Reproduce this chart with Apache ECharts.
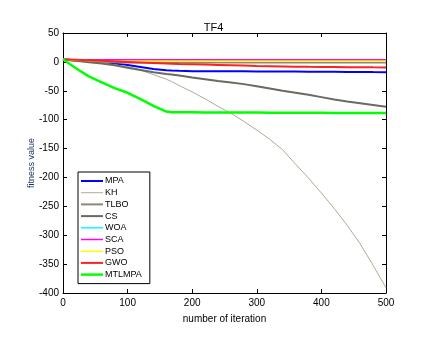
<!DOCTYPE html>
<html><head><meta charset="utf-8">
<script src="https://cdn.jsdelivr.net/npm/echarts@6/dist/echarts.min.js"></script>
<style>html,body{margin:0;padding:0;background:#fff}#c{width:427px;height:343px}</style>
</head><body><div id="c"></div>
<script>
var iterations = [0,20,40,60,80,100,120,140,160,168,180,200,220,240,260,280,300,320,340,360,380,400,420,440,460,480,500];
var seriesNames = ['MPA','KH','TLBO','CS','WOA','SCA','PSO','GWO','MTLMPA'];
var MPA    = [4,3,1.5,-0.5,-3,-5.5,-9,-12.5,-14.5,-15,-15.5,-16,-16.1,-16.2,-16.3,-16.4,-16.5,-16.6,-16.7,-16.8,-16.9,-17,-17.1,-17.3,-17.5,-17.7,-17.8];
var KH     = [4,3,1,-2,-5,-8,-14,-22,-30,-34,-41,-52,-64,-77,-89,-103,-118,-134,-152,-177,-201,-227,-254,-283,-315,-352,-391];
var TLBO   = [4,2,0.5,-0.3,-0.7,-1,-1,-1,-1,-1,-1,-1,-1,-1,-1,-1,-1,-1,-1,-1,-1,-1,-1,-1,-1,-1,-1];
var CS     = [4,2,-0.5,-3,-6,-10,-14,-18,-21,-22,-23.5,-27,-30,-33,-35.5,-38.5,-42,-46,-50,-53.5,-57,-61,-65,-68.5,-71.5,-74.5,-77.5];
var WOA    = [4,3.8,3.7,3.6,3.6,3.6,3.6,3.6,3.6,3.6,3.6,3.6,3.6,3.6,3.6,3.6,3.6,3.6,3.6,3.6,3.6,3.6,3.6,3.6,3.6,3.6,3.6];
var SCA    = [4,3.8,3.7,3.6,3.6,3.5,3.5,3.5,3.5,3.5,3.5,3.5,3.5,3.5,3.5,3.5,3.5,3.5,3.5,3.5,3.5,3.5,3.5,3.5,3.5,3.5,3.5];
var PSO    = [4,3,2.2,1.8,1.5,1.3,1.2,1.1,1,1,1,1,1,1,1,1,1,1,1,1,1,1,1,1,1,1,1];
var GWO    = [4,3.5,3,2,1,0,-1,-2,-3,-3.2,-3.6,-4,-4.6,-5.2,-5.8,-6.4,-7,-7.4,-7.8,-8.2,-8.5,-8.7,-8.9,-9.1,-9.2,-9.4,-9.5];
var MTLMPA = [4.5,-11,-25,-35.5,-45.5,-53.5,-64.5,-76,-86,-87,-87.2,-87.3,-87.4,-87.5,-87.6,-87.7,-87.8,-87.9,-88,-88,-88.1,-88.2,-88.3,-88.3,-88.4,-88.5,-88.5];
var xTicks = [0,100,200,300,400,500];
var yTicks = [-400,-350,-300,-250,-200,-150,-100,-50,0,50];

var values = [MPA,KH,TLBO,CS,WOA,SCA,PSO,GWO,MTLMPA];
var colors = ['#0000ff','#b3a995','#8b8976','#6a6a62','#00ffff','#ff00ff','#ffff00','#ff2020','#00ff00'];
var widths = [2,1,2,2,1.5,1.5,1.5,2,2.5];
var font = 'Arial, "Liberation Sans", sans-serif';

function iconPath(w){
  var a = 5 - w/2, b = 5 + w/2;
  return 'path://M0,0L0,0M0,'+a+'L22,'+a+'L22,'+b+'L0,'+b+'ZM22,10L22,10';
}

var series = seriesNames.map(function(n,i){
  return {name:n,type:'line',symbol:'none',showSymbol:false,xAxisIndex:0,yAxisIndex:0,
    data: iterations.map(function(x,j){return [x, values[i][j]];}),
    lineStyle:{color:colors[i],width:widths[i]},itemStyle:{color:colors[i]},
    animation:false,z:2+i};
});

var chart = echarts.init(document.getElementById('c'),null,{renderer:'canvas'});
var axisCommon = {
  axisLine:{show:true,onZero:false,lineStyle:{color:'#000',width:1}},
  axisTick:{show:true,inside:true,length:4,lineStyle:{color:'#000'}},
  splitLine:{show:false}
};
chart.setOption({
  backgroundColor:'#fff',
  animation:false,
  title:{text:'TF4',left:'center',top:17,textStyle:{fontFamily:font,fontSize:11,fontWeight:'normal',color:'#000'}},
  grid:{left:63,top:33,width:323,height:260,containLabel:false},
  legend:{
    orient:'vertical',left:78,top:172,
    data:seriesNames.map(function(n,i){return {name:n,icon:iconPath(widths[i]),itemStyle:{color:colors[i],borderWidth:0}};}),
    itemWidth:22,itemHeight:10,itemGap:1.7,
    backgroundColor:'#fff',borderColor:'#000',borderWidth:1,borderRadius:0,
    padding:[4,8,4,3],
    textStyle:{fontFamily:font,fontSize:9,color:'#000',padding:[0,0,0,-3]},
    selectedMode:false
  },
  xAxis:[
    Object.assign({type:'value',min:xTicks[0],max:xTicks[xTicks.length-1],interval:100,position:'bottom',
      name:'number of iteration',nameLocation:'middle',nameGap:21,nameMoveOverlap:false,
      nameTextStyle:{fontFamily:font,fontSize:10,color:'#000'},
      axisLabel:{fontFamily:font,fontSize:10,color:'#000',margin:5}},axisCommon),
    Object.assign({type:'value',min:0,max:500,interval:100,position:'top',axisLabel:{show:false}},axisCommon)
  ],
  yAxis:[
    Object.assign({type:'value',min:yTicks[0],max:yTicks[yTicks.length-1],interval:50,position:'left',
      name:'fitness value',nameLocation:'middle',nameGap:27,nameMoveOverlap:false,
      nameTextStyle:{fontFamily:font,fontSize:9,color:'#1f3566'},
      axisLabel:{fontFamily:font,fontSize:10,color:'#000',margin:4}},axisCommon),
    Object.assign({type:'value',min:-400,max:50,interval:50,position:'right',axisLabel:{show:false}},axisCommon)
  ],
  series:series
});
</script></body></html>
